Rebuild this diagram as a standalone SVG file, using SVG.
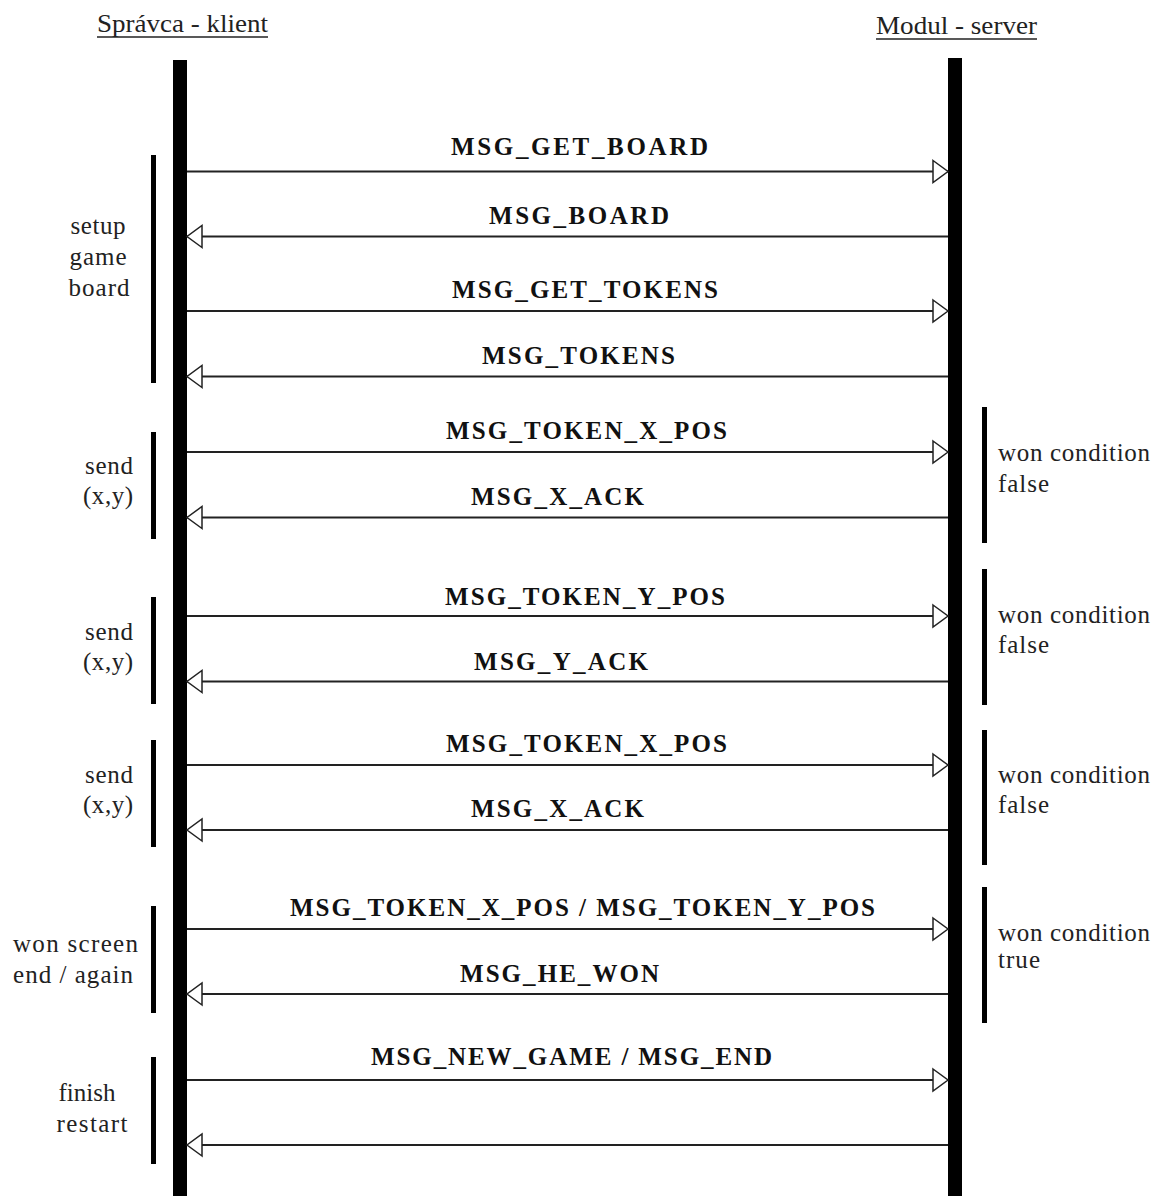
<svg xmlns="http://www.w3.org/2000/svg" width="1158" height="1196" viewBox="0 0 1158 1196">
<style>
.msg{font-family:"Liberation Serif","Times New Roman",serif;font-weight:bold;font-size:25px;fill:#111}
.note{font-family:"Liberation Serif","Times New Roman",serif;font-size:25px;fill:#222}
.hdr{font-family:"Liberation Serif","Times New Roman",serif;font-size:25px;fill:#222}
.life{fill:#000}
.bar{fill:#000}
.arr{stroke:#222;stroke-width:2;fill:none}
</style>
<defs>
<marker id="head" markerUnits="userSpaceOnUse" markerWidth="18" markerHeight="26" refX="15" refY="11" orient="auto" overflow="visible">
<path d="M0,0 L15,11 L0,22 Z" fill="#fff" stroke="#222" stroke-width="1.5"/>
</marker>
</defs>
<rect width="1158" height="1196" fill="#fff"/>

<g id="client">
<text class="hdr" x="97" y="32" textLength="171" lengthAdjust="spacingAndGlyphs">Správca - klient</text>
<line x1="97" y1="37" x2="268" y2="37" stroke="#222" stroke-width="1.5"/>
<rect class="life" x="173" y="60" width="14" height="1136"/>
</g>
<g id="server">
<text class="hdr" x="876" y="34" textLength="161" lengthAdjust="spacingAndGlyphs">Modul - server</text>
<line x1="876" y1="39" x2="1037" y2="39" stroke="#222" stroke-width="1.5"/>
<rect class="life" x="948" y="58" width="14" height="1138"/>
</g>

<g id="phase-setup">
<rect class="bar" x="151" y="155" width="5" height="228"/>
<text class="note" x="98" y="234" text-anchor="middle" textLength="55">setup</text>
<text class="note" x="98" y="265" text-anchor="middle" textLength="57">game</text>
<text class="note" x="99" y="296" text-anchor="middle" textLength="61">board</text>
</g>
<g id="phase-send1">
<rect class="bar" x="151" y="432" width="5" height="107"/>
<text class="note" x="109" y="474" text-anchor="middle" textLength="48">send</text>
<text class="note" x="108" y="504" text-anchor="middle" textLength="50">(x,y)</text>
</g>
<g id="phase-send2">
<rect class="bar" x="151" y="597" width="5" height="107"/>
<text class="note" x="109" y="640" text-anchor="middle" textLength="48">send</text>
<text class="note" x="108" y="670" text-anchor="middle" textLength="50">(x,y)</text>
</g>
<g id="phase-send3">
<rect class="bar" x="151" y="740" width="5" height="107"/>
<text class="note" x="109" y="783" text-anchor="middle" textLength="48">send</text>
<text class="note" x="108" y="813" text-anchor="middle" textLength="50">(x,y)</text>
</g>
<g id="phase-won">
<rect class="bar" x="151" y="906" width="5" height="107"/>
<text class="note" x="13" y="952" textLength="125">won screen</text>
<text class="note" x="13" y="983" textLength="120">end / again</text>
</g>
<g id="phase-finish">
<rect class="bar" x="151" y="1057" width="5" height="107"/>
<text class="note" x="87" y="1101" text-anchor="middle" textLength="57">finish</text>
<text class="note" x="92" y="1132" text-anchor="middle" textLength="71">restart</text>
</g>

<g id="cond1">
<rect class="bar" x="982" y="407" width="5" height="136"/>
<text class="note" x="998" y="461" textLength="152">won condition</text>
<text class="note" x="998" y="492" textLength="51">false</text>
</g>
<g id="cond2">
<rect class="bar" x="982" y="569" width="5" height="136"/>
<text class="note" x="998" y="623" textLength="152">won condition</text>
<text class="note" x="998" y="653" textLength="51">false</text>
</g>
<g id="cond3">
<rect class="bar" x="982" y="730" width="5" height="135"/>
<text class="note" x="998" y="783" textLength="152">won condition</text>
<text class="note" x="998" y="813" textLength="51">false</text>
</g>
<g id="cond4">
<rect class="bar" x="982" y="887" width="5" height="136"/>
<text class="note" x="998" y="941" textLength="152">won condition</text>
<text class="note" x="998" y="968" textLength="42">true</text>
</g>

<g id="connectors">
<line class="arr" x1="187" y1="171.5" x2="948" y2="171.5" marker-end="url(#head)"/>
<line class="arr" x1="948" y1="236.5" x2="187" y2="236.5" marker-end="url(#head)"/>
<line class="arr" x1="187" y1="311" x2="948" y2="311" marker-end="url(#head)"/>
<line class="arr" x1="948" y1="376.5" x2="187" y2="376.5" marker-end="url(#head)"/>
<line class="arr" x1="187" y1="452" x2="948" y2="452" marker-end="url(#head)"/>
<line class="arr" x1="948" y1="517.5" x2="187" y2="517.5" marker-end="url(#head)"/>
<line class="arr" x1="187" y1="616" x2="948" y2="616" marker-end="url(#head)"/>
<line class="arr" x1="948" y1="681.5" x2="187" y2="681.5" marker-end="url(#head)"/>
<line class="arr" x1="187" y1="765" x2="948" y2="765" marker-end="url(#head)"/>
<line class="arr" x1="948" y1="830" x2="187" y2="830" marker-end="url(#head)"/>
<line class="arr" x1="187" y1="929" x2="948" y2="929" marker-end="url(#head)"/>
<line class="arr" x1="948" y1="994" x2="187" y2="994" marker-end="url(#head)"/>
<line class="arr" x1="187" y1="1080" x2="948" y2="1080" marker-end="url(#head)"/>
<line class="arr" x1="948" y1="1145" x2="187" y2="1145" marker-end="url(#head)"/>

<text class="msg" x="451" y="155" textLength="257">MSG_GET_BOARD</text>
<text class="msg" x="489" y="224" textLength="180">MSG_BOARD</text>
<text class="msg" x="452" y="298" textLength="266">MSG_GET_TOKENS</text>
<text class="msg" x="482" y="364" textLength="193">MSG_TOKENS</text>
<text class="msg" x="446" y="439" textLength="281">MSG_TOKEN_X_POS</text>
<text class="msg" x="471" y="505" textLength="173">MSG_X_ACK</text>
<text class="msg" x="445" y="605" textLength="280">MSG_TOKEN_Y_POS</text>
<text class="msg" x="474" y="670" textLength="174">MSG_Y_ACK</text>
<text class="msg" x="446" y="752" textLength="281">MSG_TOKEN_X_POS</text>
<text class="msg" x="471" y="817" textLength="173">MSG_X_ACK</text>
<text class="msg" x="290" y="916" textLength="585">MSG_TOKEN_X_POS / MSG_TOKEN_Y_POS</text>
<text class="msg" x="460" y="982" textLength="199">MSG_HE_WON</text>
<text class="msg" x="371" y="1065" textLength="401">MSG_NEW_GAME / MSG_END</text>
</g>
</svg>
